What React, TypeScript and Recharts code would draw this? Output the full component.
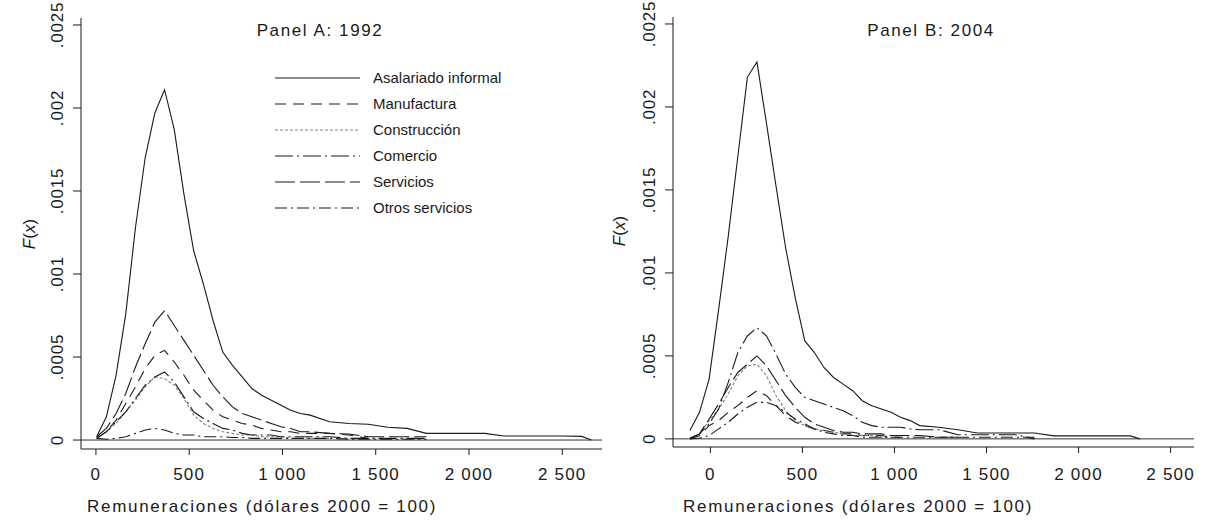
import React from 'react';
import { LineChart, Line, XAxis, YAxis, ReferenceLine, Legend } from 'recharts';

const FONT = '"Liberation Sans", Arial, Helvetica, sans-serif';
const INK = '#1a1a1a';

const seriesKeys = ['informal', 'manufactura', 'construccion', 'comercio', 'servicios', 'otros'];
const seriesNames = ['Asalariado informal', 'Manufactura', 'Construcción', 'Comercio', 'Servicios', 'Otros servicios'];

const xTicks = [0, 500, 1000, 1500, 2000, 2500];
const yTicks = [0, 0.0005, 0.001, 0.0015, 0.002, 0.0025];
const yTickLabels = ['0', '.0005', '.001', '.0015', '.002', '.0025'];

// Panel A: 1992
const xA = [4, 56, 108, 160, 212, 264, 316, 368, 420, 472, 524, 576, 628, 680, 732, 784, 836, 888, 940, 992, 1044, 1096, 1148, 1252, 1356, 1460, 1564, 1668, 1772, 1876, 1980, 2084, 2188, 2292, 2396, 2500, 2604, 2656];
const aInformal = [0.00002, 0.00014, 0.00039, 0.00076, 0.00128, 0.0017, 0.00197, 0.00211, 0.00187, 0.00148, 0.00114, 0.00094, 0.00072, 0.00053, 0.00045, 0.00038, 0.00031, 0.00027, 0.00024, 0.00021, 0.00018, 0.00016, 0.00015, 0.00011, 0.0001, 0.000095, 0.000077, 0.00007, 0.00004, 0.00004, 0.00004, 0.00004, 0.000024, 0.000024, 0.000024, 0.000024, 0.000022, 0];
const aManufactura = [0.00001, 0.00005, 0.00012, 0.00022, 0.00032, 0.00043, 0.00051, 0.00054, 0.00047, 0.00039, 0.0003, 0.00024, 0.00018, 0.00014, 0.00012, 0.0001, 0.00009, 0.00007, 0.00006, 0.00005, 0.00005, 0.00004, 0.00004, 0.00004, 0.00003, 0.00001];
const aConstruccion = [0.00001, 0.00005, 0.0001, 0.00017, 0.00024, 0.00032, 0.00038, 0.00037, 0.00033, 0.00025, 0.00015, 0.0001, 0.00007, 0.00005, 0.00004, 0.00003, 0.00003, 0.00002, 0.00002, 0.00002, 0.00001, 0.00001, 0.00001, 0.00001];
const aComercio = [0.00001, 0.00005, 0.00011, 0.00017, 0.00025, 0.00033, 0.00038, 0.00041, 0.00035, 0.00026, 0.00017, 0.00013, 0.0001, 0.00007, 0.00006, 0.00004, 0.00003, 0.00003, 0.00003, 0.00002, 0.00002, 0.00002, 0.00002, 0.00002, 0.00001, 0.00001, 0.00001, 0.00001, 0.00001];
const aServicios = [0.00002, 0.00007, 0.00016, 0.00028, 0.00044, 0.00058, 0.00071, 0.00078, 0.00069, 0.0006, 0.00051, 0.00042, 0.00033, 0.00026, 0.0002, 0.00016, 0.00014, 0.00012, 0.0001, 0.00008, 0.00007, 0.00005, 0.00005, 0.00004, 0.000036, 0.00002, 0.00002, 0.00002, 0.00002];
const aOtros = [0.00001, 0.000005, 0.00001, 0.00002, 0.00004, 0.00006, 0.00007, 0.00006, 0.00004, 0.00003, 0.00003, 0.00002, 0.00002, 0.00002, 0.000015, 0.000015, 0.00001, 0.00001, 0.00001, 0.00001, 0.00001, 0.00001, 0.00001, 0.00001, 0.000005, 0.000005, 0.000005, 0.000005, 0.000005];

// Panel B: 2004
const xB = [-111, -59, -7, 45, 97, 149, 201, 253, 305, 357, 409, 461, 513, 565, 617, 669, 721, 773, 825, 877, 929, 981, 1033, 1085, 1137, 1241, 1345, 1449, 1553, 1657, 1761, 1865, 1969, 2073, 2177, 2281, 2333];
const bInformal = [0.00005, 0.00016, 0.00036, 0.00078, 0.00122, 0.0017, 0.00218, 0.00227, 0.0019, 0.00152, 0.00115, 0.00085, 0.00059, 0.00052, 0.00043, 0.00037, 0.00033, 0.00029, 0.00023, 0.0002, 0.00018, 0.00016, 0.00013, 0.00011, 0.00008, 0.00007, 0.000055, 0.000035, 0.000035, 0.000035, 0.000035, 0.000018, 0.000018, 0.000018, 0.000018, 0.000018, 0];
const bManufactura = [0, 0.00002, 0.00008, 0.00011, 0.00016, 0.0002, 0.00025, 0.00029, 0.00026, 0.0002, 0.00014, 0.0001, 0.00008, 0.00006, 0.00005, 0.00004, 0.00003, 0.00003, 0.00002, 0.00002, 0.00002, 0.00001, 0.00001];
const bConstruccion = [0, 0.00003, 0.00011, 0.00018, 0.00027, 0.00038, 0.00044, 0.00045, 0.00038, 0.00026, 0.00017, 0.00011, 0.00008, 0.00006, 0.00005, 0.00004, 0.00003, 0.00002, 0.00002, 0.00002, 0.00001, 0.00001];
const bComercio = [0.000005, 0.00003, 0.00009, 0.00018, 0.00034, 0.00052, 0.00062, 0.00067, 0.00062, 0.00051, 0.00039, 0.00031, 0.00025, 0.00023, 0.00021, 0.00019, 0.00017, 0.00014, 0.0001, 0.00008, 0.00007, 0.00007, 0.00007, 0.00006, 0.000055, 0.000055, 0.000025, 0.000025, 0.000025, 0.000025, 0];
const bServicios = [0, 0.00003, 0.00012, 0.00021, 0.00031, 0.0004, 0.00045, 0.0005, 0.00044, 0.00035, 0.00026, 0.00019, 0.00013, 0.00009, 0.00007, 0.00005, 0.00004, 0.00004, 0.00003, 0.00003, 0.00003, 0.00002, 0.00002, 0.00002, 0.00002, 0.00001, 0.00001];
const bOtros = [0, 0.000005, 0.00002, 0.00006, 0.0001, 0.00015, 0.00019, 0.00022, 0.00022, 0.0002, 0.00016, 0.00012, 0.00009, 0.00006, 0.00004, 0.00003, 0.00002, 0.00002, 0.00001, 0.00001, 0.00001, 0.00001, 0.00001, 0.00001, 0.00001, 0.00001, 0.00001, 0.00001, 0.00001, 0.00001, 0.00001];

// line look per series (same order as seriesKeys)
const lineStyles = [
  { stroke: INK, dash: undefined },
  { stroke: INK, dash: '11 7' },
  { stroke: '#808080', dash: '3 2' },
  { stroke: INK, dash: '18 4 2 4' },
  { stroke: INK, dash: '20 5' },
  { stroke: INK, dash: '12 4 2 4' },
];

const buildRows = (xs: number[], cols: number[][]) =>
  xs.map((x, i) => {
    const row: Record<string, number | null> = { x };
    seriesKeys.forEach((k, j) => {
      row[k] = cols[j][i] ?? null;
    });
    return row;
  });

const dataA = buildRows(xA, [aInformal, aManufactura, aConstruccion, aComercio, aServicios, aOtros]);
const dataB = buildRows(xB, [bInformal, bManufactura, bConstruccion, bComercio, bServicios, bOtros]);

const fmtX = (v: number) => (v >= 1000 ? `${Math.floor(v / 1000)} ${String(v % 1000).padStart(3, '0')}` : String(v));

const YTick = (props: any) => {
  const { x, y, payload } = props;
  const label = yTickLabels[yTicks.indexOf(payload.value)];
  return (
    <text x={x} y={y} transform={`rotate(-90 ${x} ${y})`} textAnchor="middle"
      fontSize={17} fontFamily={FONT} letterSpacing={0.8} fill={INK}>
      {label}
    </text>
  );
};

const LegendBox = () => (
  <svg width={270} height={165}>
    {seriesNames.map((name, i) => (
      <g key={name}>
        <line x1={5} x2={90} y1={18 + 26 * i} y2={18 + 26 * i}
          stroke={lineStyles[i].stroke} strokeWidth={1.1} strokeDasharray={lineStyles[i].dash} />
        <text x={103} y={23 + 26 * i} fontSize={15} fontFamily={FONT} fill={INK}>{name}</text>
      </g>
    ))}
  </svg>
);

interface PanelProps {
  data: Record<string, number | null>[];
  xDomain: [number, number];
  yDomain: [number, number];
  margin: { top: number; right: number; bottom: number; left: number };
  xAxisHeight: number;
  tickMargin: number;
  axisTitleX: number;
  fxX: number;
  fxY: number;
  legend?: boolean;
}

function Panel({ data, xDomain, yDomain, margin, xAxisHeight, tickMargin, axisTitleX, fxX, fxY, legend }: PanelProps) {
  return (
    <LineChart width={603} height={523} data={data} margin={margin}>
      <XAxis
        dataKey="x"
        type="number"
        domain={xDomain}
        allowDataOverflow
        ticks={xTicks}
        tickFormatter={fmtX}
        height={xAxisHeight}
        tickSize={6}
        tickMargin={tickMargin}
        stroke={INK}
        tick={{ fontSize: 17, fontFamily: FONT, fill: INK, letterSpacing: 1.2 }}
        label={() => (
          <text x={axisTitleX} y={512} fontSize={17} fontFamily={FONT} letterSpacing={1.7} fill={INK}>
            Remuneraciones (dólares 2000 = 100)
          </text>
        )}
      />
      <YAxis
        type="number"
        width={60}
        domain={yDomain}
        allowDataOverflow
        ticks={yTicks}
        tickSize={8}
        tickMargin={10}
        stroke={INK}
        tick={<YTick />}
        label={() => (
          <text x={fxX} y={fxY} transform={`rotate(-90 ${fxX} ${fxY})`} textAnchor="middle"
            fontSize={17} fontFamily={FONT} fill={INK}>
            <tspan fontStyle="italic">F</tspan>(<tspan fontStyle="italic">x</tspan>)
          </text>
        )}
      />
      <ReferenceLine y={0} stroke="#333" strokeWidth={1} ifOverflow="extendDomain" />
      {seriesKeys.map((k, i) => (
        <Line
          key={k}
          dataKey={k}
          name={seriesNames[i]}
          type="linear"
          stroke={lineStyles[i].stroke}
          strokeWidth={1.1}
          strokeDasharray={lineStyles[i].dash}
          dot={false}
          activeDot={false}
          isAnimationActive={false}
        />
      ))}
      {legend && (
        <Legend
          layout="vertical"
          align="center"
          verticalAlign="middle"
          content={<LegendBox />}
          wrapperStyle={{ left: 270, top: 60, width: 270, height: 165 }}
        />
      )}
    </LineChart>
  );
}

const titleStyle: React.CSSProperties = {
  position: 'absolute',
  top: 21,
  width: 240,
  textAlign: 'center',
  fontFamily: FONT,
  fontSize: 17,
  letterSpacing: 1.6,
  color: INK,
  lineHeight: 'normal',
};

export default function App() {
  return (
    <div style={{ position: 'absolute', left: 0, top: 0, width: 1206, height: 523, background: '#fff' }}>
      <div style={{ position: 'absolute', left: 0, top: 0 }}>
        <Panel
          data={dataA}
          xDomain={[-80, 2713]}
          yDomain={[-0.000054, 0.002542]}
          margin={{ top: 18, right: 1, bottom: 0, left: 21 }}
          xAxisHeight={74}
          tickMargin={13}
          axisTitleX={87}
          fxX={35}
          fxY={234}
          legend
        />
      </div>
      <div style={{ position: 'absolute', left: 603, top: 0 }}>
        <Panel
          data={dataB}
          xDomain={[-203, 2627]}
          yDomain={[-0.000049, 0.002542]}
          margin={{ top: 17, right: 12, bottom: 0, left: 10 }}
          xAxisHeight={76}
          tickMargin={15}
          axisTitleX={80}
          fxX={22}
          fxY={231}
        />
      </div>
      <div style={{ ...titleStyle, left: 200 }}>Panel A: 1992</div>
      <div style={{ ...titleStyle, left: 811 }}>Panel B: 2004</div>
    </div>
  );
}
